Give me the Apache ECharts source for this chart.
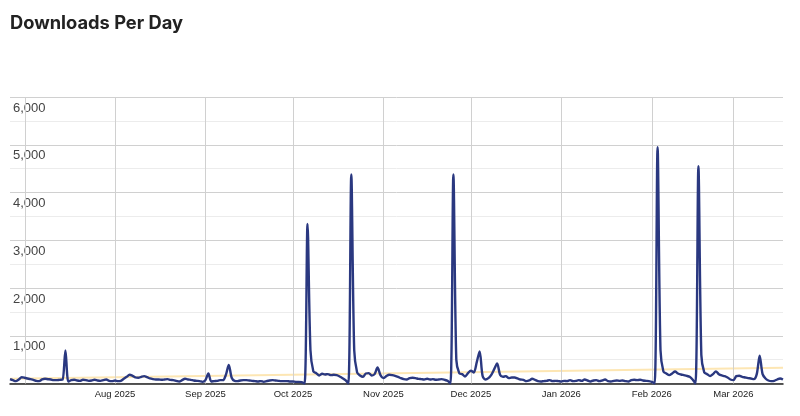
<!DOCTYPE html>
<html>
<head>
<meta charset="utf-8">
<script src="https://cdn.jsdelivr.net/npm/echarts@6/dist/echarts.min.js"></script>
<style>
  html, body { margin: 0; padding: 0; background: #fff; }
  #chart { width: 800px; height: 416px; }
</style>
</head>
<body>
<div id="chart"></div>
<script>
// ---- data ----
const titleText = 'Downloads Per Day';
const firstDay = [2025, 5, 26]; // 26 Jun 2025, one value per day
const downloads = [
  90,70,50,85,130,120,105,90,77,56,
  50,84,98,90,84,70,70,77,80,690,
  40,70,77,63,56,77,70,56,63,77,
  63,56,70,84,56,50,63,50,56,98,
  140,182,161,126,119,140,154,133,105,91,
  84,84,77,84,91,77,70,56,42,70,
  98,84,77,63,56,50,35,70,210,42,
  50,56,70,70,180,390,120,56,50,63,
  70,70,63,56,50,42,50,35,50,63,
  70,63,56,50,50,50,42,42,35,35,
  28,0,3340,700,252,217,168,203,189,196,
  175,182,175,147,112,70,0,4380,700,231,
  168,140,210,217,168,196,336,175,112,154,
  182,175,161,140,112,91,84,112,119,112,
  98,91,84,98,84,91,77,84,91,77,
  56,0,4380,500,217,196,147,217,266,231,
  441,672,161,84,112,182,301,420,182,140,
  154,112,126,126,105,84,77,50,63,98,
  77,50,42,50,56,70,50,56,50,42,
  56,50,70,50,56,70,56,84,63,42,
  63,70,50,63,84,50,42,56,63,56,
  63,50,42,70,77,70,77,63,56,50,
  35,0,4950,700,252,210,175,210,252,210,
  189,175,161,140,84,0,4550,600,231,196,
  154,196,252,196,168,154,126,84,70,154,
  161,140,126,112,105,91,196,581,196,105,
  63,50,56,84,105,84
];
const trendStartEnd = [100, 330];
const yTicks = [0, 1000, 2000, 3000, 4000, 5000, 6000];
const monthStarts = [[2025,6],[2025,7],[2025,8],[2025,9],[2025,10],[2025,11],[2026,0],[2026,1],[2026,2]];
const monthNames = ['Jan','Feb','Mar','Apr','May','Jun','Jul','Aug','Sep','Oct','Nov','Dec'];

// ---- build ----
const dates = downloads.map((_, i) => new Date(firstDay[0], firstDay[1], firstDay[2] + i).getTime());
const mainData = downloads.map((v, i) => [dates[i], v]);
const trendData = [[dates[0], trendStartEnd[0]], [dates[dates.length - 1], trendStartEnd[1]]];
const monthTimes = monthStarts.map(m => new Date(m[0], m[1], 1).getTime());
const firstLabelDate = monthTimes[1];
const yMin = yTicks[0], yMax = yTicks[yTicks.length - 1];

const chart = echarts.init(document.getElementById('chart'), null, { renderer: 'canvas' });
chart.setOption({
  animation: false,
  title: {
    text: titleText,
    left: 10,
    top: 15,
    padding: 0,
    textStyle: { fontFamily: 'Inter', fontWeight: 'bold', fontSize: 18.3, color: '#222' }
  },
  grid: { left: 10, right: 17, top: 97, bottom: 32.5 },
  xAxis: {
    type: 'time',
    min: dates[0],
    max: dates[dates.length - 1],
    splitNumber: 9,
    minInterval: 28 * 86400000,
    maxInterval: 31 * 86400000,
    axisLine: { show: true, lineStyle: { color: '#222', width: 1.5 } },
    axisTick: { show: false },
    splitLine: { show: false },
    axisLabel: {
      margin: 6,
      fontFamily: 'Liberation Sans, Arial',
      fontSize: 9.5,
      color: '#222',
      showMinLabel: false,
      showMaxLabel: false,
      hideOverlap: false,
      formatter: function (val) {
        const d = new Date(val);
        if (d.getDate() !== 1 || val < firstLabelDate) return '';
        return monthNames[d.getMonth()] + ' ' + d.getFullYear();
      }
    }
  },
  yAxis: {
    type: 'value',
    min: yMin,
    max: yMax,
    interval: 1000,
    axisLine: { show: false },
    axisTick: { show: false },
    splitLine: { show: true, lineStyle: { color: '#d0d0d0', width: 1 } },
    minorTick: { show: false, splitNumber: 2 },
    minorSplitLine: { show: true, lineStyle: { color: '#ececec', width: 1 } },
    axisLabel: {
      inside: true,
      margin: 3,
      showMinLabel: false,
      verticalAlign: 'top',
      lineHeight: 22,
      fontFamily: 'Liberation Sans, Arial',
      fontSize: 13,
      color: '#444',
      formatter: v => v.toLocaleString('en-US')
    }
  },
  series: [
    {
      type: 'custom',
      silent: true,
      z: 2,
      clip: false,
      data: monthTimes.map(t => [t, yMin]),
      encode: { x: 0, y: 1 },
      renderItem: function (params, api) {
        const t = api.value(0);
        const p0 = api.coord([t, yMin]);
        const p1 = api.coord([t, yMax]);
        const x = Math.round(p0[0]) + 0.5;
        return {
          type: 'line',
          shape: { x1: x, y1: p0[1], x2: x, y2: p1[1] },
          style: { stroke: '#d0d0d0', lineWidth: 1 }
        };
      }
    },
    {
      type: 'line',
      data: trendData,
      symbol: 'none',
      z: 1,
      lineStyle: { color: '#fde6b3', width: 2 },
      silent: true
    },
    {
      type: 'line',
      data: mainData,
      symbol: 'none',
      smooth: 0.3,
      z: 3,
      lineStyle: { color: '#2a3880', width: 2.4 }
    }
  ]
});
</script>
</body>
</html>
